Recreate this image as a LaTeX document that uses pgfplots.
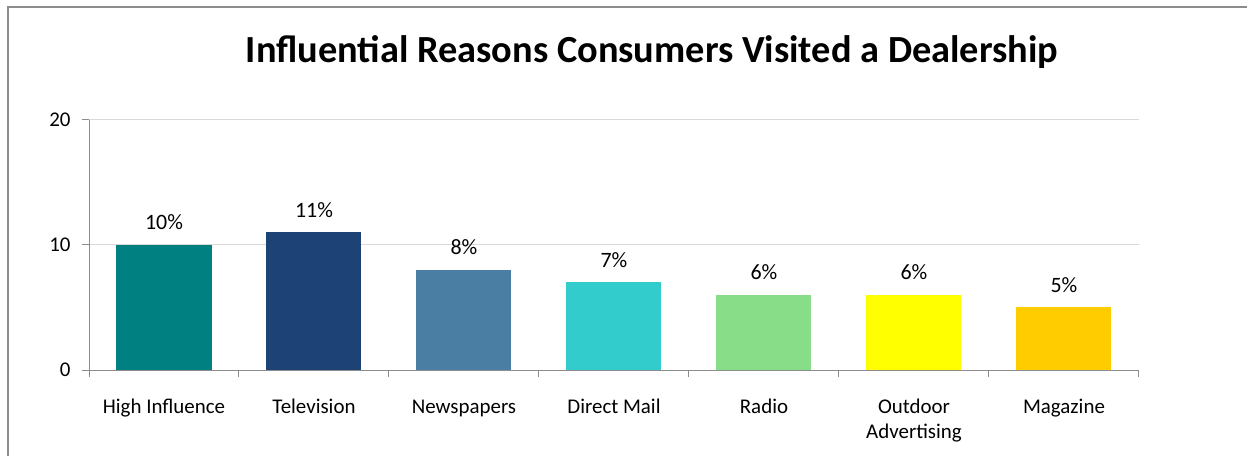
\documentclass[border=0pt]{standalone}
\usepackage{fontspec}
\setmainfont{Carlito}
\usepackage{pgfplots}
\pgfplotsset{compat=1.18}
\definecolor{cA}{HTML}{008080}
\definecolor{cB}{HTML}{1D4276}
\definecolor{cC}{HTML}{4A7FA3}
\definecolor{cD}{HTML}{33CCCC}
\definecolor{cE}{HTML}{88DD88}
\definecolor{cF}{HTML}{FFFF00}
\definecolor{cG}{HTML}{FFCC00}
\definecolor{axgray}{HTML}{8C8C8C}
\definecolor{gridgray}{HTML}{D9D9D9}
\begin{document}
\begin{tikzpicture}
\useasboundingbox (0,0) rectangle (1247bp,456bp);
\draw[axgray, line width=1.2bp] (8bp,0) -- (8bp,449bp) -- (1247bp,449bp);
\node[font=\fontsize{38.5}{44}\selectfont\bfseries, anchor=base, inner sep=0pt] at (652bp,393bp) {Influential Reasons Consumers Visited a Dealership};
\begin{axis}[
  at={(89bp,86bp)}, anchor=south west,
  scale only axis, width=1050bp, height=250bp,
  xmin=-0.5, xmax=6.5, ymin=0, ymax=20,
  axis lines*=left,
  axis line style={axgray, line width=1bp},
  ytick={0,10,20},
  ymajorgrids, grid style={gridgray, line width=1bp},
  major tick length=7bp,
  tick align=outside,
  y tick style={axgray, line width=1bp},
  xtick={0,...,6},
  xticklabels={High Influence,Television,Newspapers,Direct Mail,Radio,{\begin{tabular}[t]{@{}c@{}}Outdoor\\Advertising\end{tabular}},Magazine},
  x tick style={draw=none},
  xticklabel style={anchor=base, yshift=-36bp, font=\fontsize{21}{26}\selectfont},
  extra x ticks={-0.5,0.5,1.5,2.5,3.5,4.5,5.5,6.5},
  extra x tick labels={},
  extra x tick style={grid=none, x tick style={draw=axgray, line width=1bp}, major tick length=7bp},
  yticklabel style={font=\fontsize{21}{26}\selectfont, xshift=-8bp},
  /pgf/number format/assume math mode=true,
  ybar, bar width=95bp,
  nodes near coords={\pgfmathprintnumber{\pgfplotspointmeta}\%},
  every node near coord/.append style={font=\fontsize{22}{26}\selectfont, black, anchor=base, inner sep=0pt, yshift=15bp},
  clip=false,
]
\addplot[fill=cA, draw=none, bar shift=0pt] coordinates {(0,10)};
\addplot[fill=cB, draw=none, bar shift=0pt] coordinates {(1,11)};
\addplot[fill=cC, draw=none, bar shift=0pt] coordinates {(2,8)};
\addplot[fill=cD, draw=none, bar shift=0pt] coordinates {(3,7)};
\addplot[fill=cE, draw=none, bar shift=0pt] coordinates {(4,6)};
\addplot[fill=cF, draw=none, bar shift=0pt] coordinates {(5,6)};
\addplot[fill=cG, draw=none, bar shift=0pt] coordinates {(6,5)};
\end{axis}
\end{tikzpicture}
\end{document}
